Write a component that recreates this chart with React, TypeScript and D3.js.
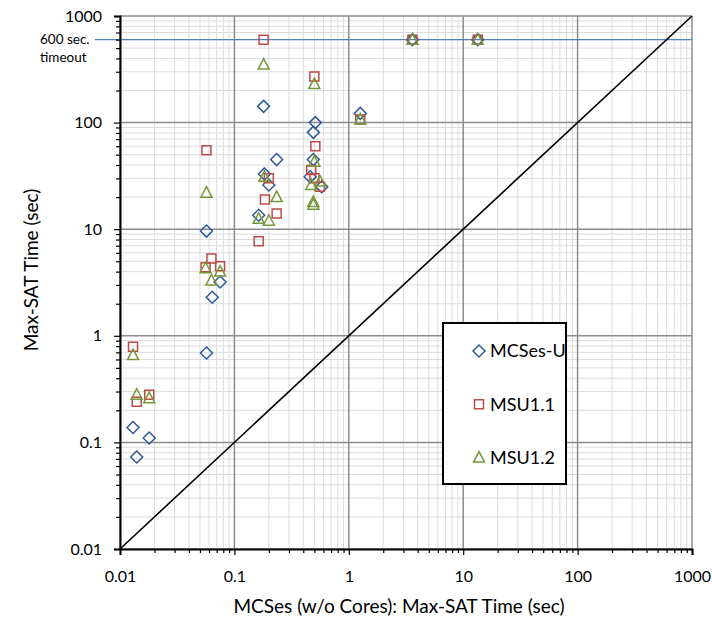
import React, { useRef, useEffect } from 'react';
import * as d3 from 'd3';

type Pt = { x: number; y: number };

// values (seconds)
const mcsesU: Pt[] = [
  { x: 0.013, y: 0.138 }, { x: 0.014, y: 0.073 }, { x: 0.018, y: 0.11 },
  { x: 0.057, y: 0.69 }, { x: 0.057, y: 9.6 }, { x: 0.064, y: 2.3 },
  { x: 0.075, y: 3.2 }, { x: 0.163, y: 13.5 }, { x: 0.18, y: 142 },
  { x: 0.183, y: 33 }, { x: 0.2, y: 26 }, { x: 0.234, y: 45 },
  { x: 0.46, y: 31 }, { x: 0.49, y: 45 }, { x: 0.49, y: 81 },
  { x: 0.51, y: 100 }, { x: 0.58, y: 25 }, { x: 1.26, y: 122 },
  { x: 3.6, y: 600 }, { x: 13.4, y: 600 },
];

const msu11: Pt[] = [
  { x: 0.013, y: 0.79 }, { x: 0.014, y: 0.24 }, { x: 0.018, y: 0.28 },
  { x: 0.057, y: 55 }, { x: 0.056, y: 4.4 }, { x: 0.063, y: 5.3 },
  { x: 0.075, y: 4.5 }, { x: 0.163, y: 7.7 }, { x: 0.18, y: 600 },
  { x: 0.185, y: 19 }, { x: 0.2, y: 30 }, { x: 0.234, y: 14 },
  { x: 0.47, y: 36 }, { x: 0.5, y: 30 }, { x: 0.56, y: 25 },
  { x: 0.5, y: 270 }, { x: 0.51, y: 60 }, { x: 1.26, y: 107 },
  { x: 3.6, y: 600 }, { x: 13.4, y: 600 },
];

const msu12: Pt[] = [
  { x: 0.013, y: 0.66 }, { x: 0.014, y: 0.28 }, { x: 0.018, y: 0.26 },
  { x: 0.057, y: 22 }, { x: 0.056, y: 4.3 }, { x: 0.063, y: 3.3 },
  { x: 0.075, y: 4.0 }, { x: 0.163, y: 12.5 }, { x: 0.18, y: 350 },
  { x: 0.183, y: 31 }, { x: 0.2, y: 12 }, { x: 0.234, y: 20 },
  { x: 0.5, y: 43 }, { x: 0.47, y: 26 }, { x: 0.56, y: 28 },
  { x: 0.49, y: 18 }, { x: 0.49, y: 17 }, { x: 0.5, y: 230 },
  { x: 1.26, y: 107 }, { x: 3.6, y: 600 }, { x: 13.4, y: 600 },
];

const seriesNames = ['MCSes-U', 'MSU1.1', 'MSU1.2'];
const majorTicks = [0.01, 0.1, 1, 10, 100, 1000];
const tickLabels = ['0.01', '0.1', '1', '10', '100', '1000'];
const diagonal = [0.01, 1000];
const timeout = 600;

const FONT = 'Lato, "Open Sans", sans-serif';

const App = () => {
  const svgRef = useRef<SVGSVGElement | null>(null);

  useEffect(() => {
    const margin = { top: 16, right: 20, bottom: 78, left: 120 };
    const width = 692 - margin.left;
    const height = 549 - margin.top;

    d3.select(svgRef.current).selectAll('*').remove();

    const root = d3.select(svgRef.current)
      .attr('width', 712)
      .attr('height', 627);

    root.append('rect').attr('width', 712).attr('height', 627).attr('fill', '#fff');

    const svg = root.append('g')
      .attr('transform', `translate(${margin.left},${margin.top})`);

    const x = d3.scaleLog().domain([0.01, 1000]).range([0, width]);
    const y = d3.scaleLog().domain([0.01, 1000]).range([height, 0]);

    const minors: number[] = [];
    for (let e = -2; e < 3; e++) {
      for (let m = 2; m < 10; m++) minors.push(m * Math.pow(10, e));
    }

    // minor grid
    svg.append('g').selectAll('line.mx').data(minors).join('line')
      .attr('x1', d => x(d)).attr('x2', d => x(d))
      .attr('y1', 0).attr('y2', height)
      .attr('stroke', '#dcdcdc').attr('stroke-width', 1);
    svg.append('g').selectAll('line.my').data(minors).join('line')
      .attr('y1', d => y(d)).attr('y2', d => y(d))
      .attr('x1', 0).attr('x2', width)
      .attr('stroke', '#dcdcdc').attr('stroke-width', 1);

    // major grid
    svg.append('g').selectAll('line').data(majorTicks).join('line')
      .attr('x1', d => x(d)).attr('x2', d => x(d))
      .attr('y1', 0).attr('y2', height)
      .attr('stroke', '#8c8c8c').attr('stroke-width', 1.5);
    svg.append('g').selectAll('line').data(majorTicks).join('line')
      .attr('y1', d => y(d)).attr('y2', d => y(d))
      .attr('x1', 0).attr('x2', width)
      .attr('stroke', '#8c8c8c').attr('stroke-width', 1.5);

    // timeout line
    svg.append('line')
      .attr('x1', -25).attr('x2', width)
      .attr('y1', y(timeout)).attr('y2', y(timeout))
      .attr('stroke', '#4f81bd').attr('stroke-width', 1.2);
    const tl = svg.append('text')
      .attr('x', -80).attr('y', y(timeout))
      .style('font-family', FONT).style('font-size', '13.5px').attr('fill', '#000');
    tl.append('tspan').attr('x', -80).attr('dy', '0.35em').text('600 sec.');
    tl.append('tspan').attr('x', -80).attr('dy', '1.3em').text('timeout');

    // y = x diagonal
    const line = d3.line<number>().x(d => x(d)).y(d => y(d));
    svg.append('path').datum(diagonal)
      .attr('d', line)
      .attr('fill', 'none').attr('stroke', '#000').attr('stroke-width', 1.6);

    // axes
    const fmt = (d: d3.NumberValue) => tickLabels[majorTicks.indexOf(+d)] ?? '';
    const xAxis = svg.append('g').attr('transform', `translate(0,${height})`)
      .call(d3.axisBottom(x).tickValues(majorTicks).tickFormat(fmt).tickSize(6).tickPadding(16));
    svg.append('g').attr('transform', `translate(0,${height})`)
      .call(d3.axisBottom(x).tickValues(minors).tickFormat(() => '').tickSize(4))
      .call(g => g.select('.domain').remove());
    const yAxis = svg.append('g')
      .call(d3.axisLeft(y).tickValues(majorTicks).tickFormat(fmt).tickSize(6).tickPadding(12));
    svg.append('g')
      .call(d3.axisLeft(y).tickValues(minors).tickFormat(() => '').tickSize(4))
      .call(g => g.select('.domain').remove());

    [xAxis, yAxis].forEach(a => {
      a.select('.domain').attr('stroke', '#000').attr('stroke-width', 2);
      a.selectAll('text').style('font-family', FONT).style('font-size', '16px').attr('fill', '#000');
    });
    svg.selectAll('.tick line').attr('stroke', '#000').attr('stroke-width', 1.2);

    // axis titles
    svg.append('text')
      .attr('x', 279).attr('y', height + 64)
      .style('text-anchor', 'middle')
      .style('font-family', FONT).style('font-size', '19px')
      .text('MCSes (w/o Cores): Max-SAT Time (sec)');
    svg.append('text')
      .attr('transform', 'rotate(-90)')
      .attr('x', -(270 - margin.top)).attr('y', -82)
      .style('text-anchor', 'middle')
      .style('font-family', FONT).style('font-size', '19px')
      .text('Max-SAT Time (sec)');

    // markers
    const colors = ['#2f5b9a', '#be4b48', '#76973a'];
    const diamond = 'M0,-6L6,0L0,6L-6,0Z';
    const square = 'M-4.5,-4.5H4.5V4.5H-4.5Z';
    const triangle = 'M0,-6L5.5,4.5H-5.5Z';
    const shapes = [diamond, square, triangle];
    const allSeries = [mcsesU, msu11, msu12];

    allSeries.forEach((data, i) => {
      svg.append('g').selectAll('path').data(data).join('path')
        .attr('transform', d => `translate(${x(d.x)},${y(d.y)})`)
        .attr('d', shapes[i])
        .attr('fill', 'none').attr('stroke', colors[i]).attr('stroke-width', 1.5);
    });

    // legend
    const lg = root.append('g').attr('transform', 'translate(443,323)');
    lg.append('rect').attr('width', 123).attr('height', 161)
      .attr('fill', '#fff').attr('stroke', '#000').attr('stroke-width', 2);
    seriesNames.forEach((name, i) => {
      const cy = 28 + i * 53.3;
      lg.append('path')
        .attr('transform', `translate(36,${cy})`)
        .attr('d', shapes[i]).attr('fill', 'none')
        .attr('stroke', colors[i]).attr('stroke-width', 1.5);
      lg.append('text')
        .attr('x', 47).attr('y', cy).attr('dy', '0.35em')
        .style('font-family', FONT).style('font-size', '18px')
        .text(name);
    });
  }, []);

  return <svg ref={svgRef} style={{ position: 'absolute', left: 0, top: 0 }}></svg>;
};

export default App;
